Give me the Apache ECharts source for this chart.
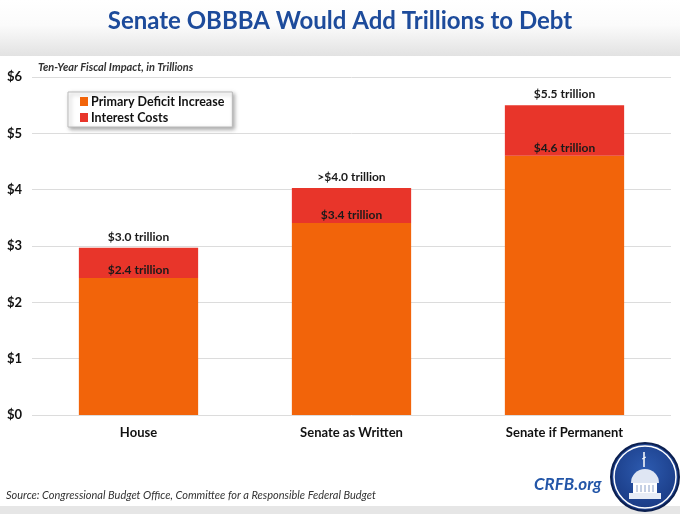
<!DOCTYPE html>
<html><head><meta charset="utf-8">
<script src="https://cdn.jsdelivr.net/npm/echarts@6/dist/echarts.min.js"></script>
<style>html,body{margin:0;padding:0;background:#fff}#c{width:680px;height:514px}</style>
</head><body><div id="c"></div>
<script>
var categories = ['House', 'Senate as Written', 'Senate if Permanent'];
var primaryDeficit = [2.43, 3.41, 4.6];
var interestCosts = [0.54, 0.62, 0.9];
var primaryLabels = ['$2.4 trillion', '$3.4 trillion', '$4.6 trillion'];
var totalLabels = ['$3.0 trillion', '>$4.0 trillion', '$5.5 trillion'];
var yTicks = [0, 1, 2, 3, 4, 5, 6];

var FONT = 'Lato, "Open Sans", sans-serif';
var chart = echarts.init(document.getElementById('c'));
chart.setOption({
  animation: false,
  textStyle: { fontFamily: FONT },
  graphic: [
    { type: 'rect', z: -10, shape: { x: 0, y: 0, width: 680, height: 56 },
      style: { fill: new echarts.graphic.LinearGradient(0, 0, 0, 1, [
        { offset: 0, color: '#ffffff' }, { offset: 0.45, color: '#fbfbfb' }, { offset: 1, color: '#e2e2e2' }]) } },
    { type: 'rect', z: -10, shape: { x: 0, y: 506, width: 680, height: 8 }, style: { fill: '#e6e6e6' } },
    { type: 'text', left: 'center', top: 9,
      style: { text: 'Senate OBBBA Would Add Trillions to Debt', font: 'bold 24px ' + FONT, fill: '#1D4B9B' } },
    { type: 'text', left: 38, top: 62,
      style: { text: 'Ten-Year Fiscal Impact, in Trillions', font: 'italic bold 11px ' + FONT, fill: '#333' } },
    { type: 'text', left: 6, top: 490,
      style: { text: 'Source: Congressional Budget Office, Committee for a Responsible Federal Budget', font: 'italic 11px ' + FONT, fill: '#333' } },
    { type: 'text', left: 534, top: 476,
      style: { text: 'CRFB.org', font: 'italic bold 17px ' + FONT, fill: '#2356A8' } },
    { type: 'group', left: 610, top: 442, children: [
      { type: 'circle', shape: { cx: 35, cy: 35, r: 34 },
        style: { fill: new echarts.graphic.RadialGradient(0.5, 0.4, 0.7, [
          { offset: 0, color: '#2d5bb0' }, { offset: 1, color: '#15337a' }]), stroke: '#0b1f4f', lineWidth: 2 } },
      { type: 'circle', shape: { cx: 35, cy: 35, r: 31 }, style: { fill: 'none', stroke: '#ffffff', lineWidth: 1.5 } },
      { type: 'line', shape: { x1: 34, y1: 10, x2: 34, y2: 25 }, style: { stroke: '#fff', lineWidth: 1.5 } },
      { type: 'line', shape: { x1: 32, y1: 17, x2: 36, y2: 15 }, style: { stroke: '#fff', lineWidth: 1 } },
      { type: 'sector', shape: { cx: 35, cy: 41, r0: 0, r: 14, startAngle: Math.PI, endAngle: 2 * Math.PI },
        style: { fill: '#dfe6f3' } },
      { type: 'rect', shape: { x: 23, y: 41, width: 24, height: 10 }, style: { fill: '#ffffff' } },
      { type: 'rect', shape: { x: 19, y: 51, width: 32, height: 6 }, style: { fill: '#e8edf6' } },
      { type: 'line', shape: { x1: 27, y1: 43, x2: 27, y2: 50 }, style: { stroke: '#8aa0c8', lineWidth: 1 } },
      { type: 'line', shape: { x1: 31, y1: 43, x2: 31, y2: 50 }, style: { stroke: '#8aa0c8', lineWidth: 1 } },
      { type: 'line', shape: { x1: 35, y1: 43, x2: 35, y2: 50 }, style: { stroke: '#8aa0c8', lineWidth: 1 } },
      { type: 'line', shape: { x1: 39, y1: 43, x2: 39, y2: 50 }, style: { stroke: '#8aa0c8', lineWidth: 1 } },
      { type: 'line', shape: { x1: 43, y1: 43, x2: 43, y2: 50 }, style: { stroke: '#8aa0c8', lineWidth: 1 } }
    ] }
  ],
  legend: {
    orient: 'vertical', left: 68, top: 92,
    backgroundColor: '#fff', borderColor: '#bbb', borderWidth: 1,
    shadowColor: 'rgba(0,0,0,0.35)', shadowBlur: 4, shadowOffsetX: 2, shadowOffsetY: 2,
    padding: [3, 8, 3, 12], itemWidth: 8, itemHeight: 9, itemGap: 3,
    icon: 'rect',
    textStyle: { fontFamily: FONT, fontWeight: 'bold', fontSize: 12.5, color: '#111', padding: [0, 0, 0, -2] },
    data: ['Primary Deficit Increase', 'Interest Costs']
  },
  grid: { left: 32, right: 9, top: 77, bottom: 99 },
  xAxis: {
    type: 'category', data: categories,
    axisLine: { show: false }, axisTick: { show: false },
    axisLabel: { margin: 11, fontFamily: FONT, fontWeight: 'bold', fontSize: 13, color: '#111' }
  },
  yAxis: {
    type: 'value', min: 0, max: 6, interval: 1,
    axisLabel: { margin: 10, fontFamily: FONT, fontWeight: 'bold', fontSize: 13, color: '#111',
      formatter: function (v) { return yTicks.indexOf(v) >= 0 ? '$' + v : ''; } },
    splitLine: { lineStyle: { color: '#dcdcdc', width: 1 } }
  },
  series: [
    { name: 'Primary Deficit Increase', type: 'bar', stack: 'total', data: primaryDeficit,
      barWidth: '56%', itemStyle: { color: '#F2640A' },
      label: { show: true, position: 'top', distance: 2, fontFamily: FONT, fontWeight: 'bold', fontSize: 12, color: '#1a1a1a',
        formatter: function (p) { return primaryLabels[p.dataIndex]; } } },
    { name: 'Interest Costs', type: 'bar', stack: 'total', data: interestCosts,
      itemStyle: { color: '#E8352A' },
      label: { show: true, position: 'top', distance: 5, fontFamily: FONT, fontWeight: 'bold', fontSize: 12, color: '#1a1a1a',
        formatter: function (p) { return totalLabels[p.dataIndex]; } } }
  ]
});
</script></body></html>
